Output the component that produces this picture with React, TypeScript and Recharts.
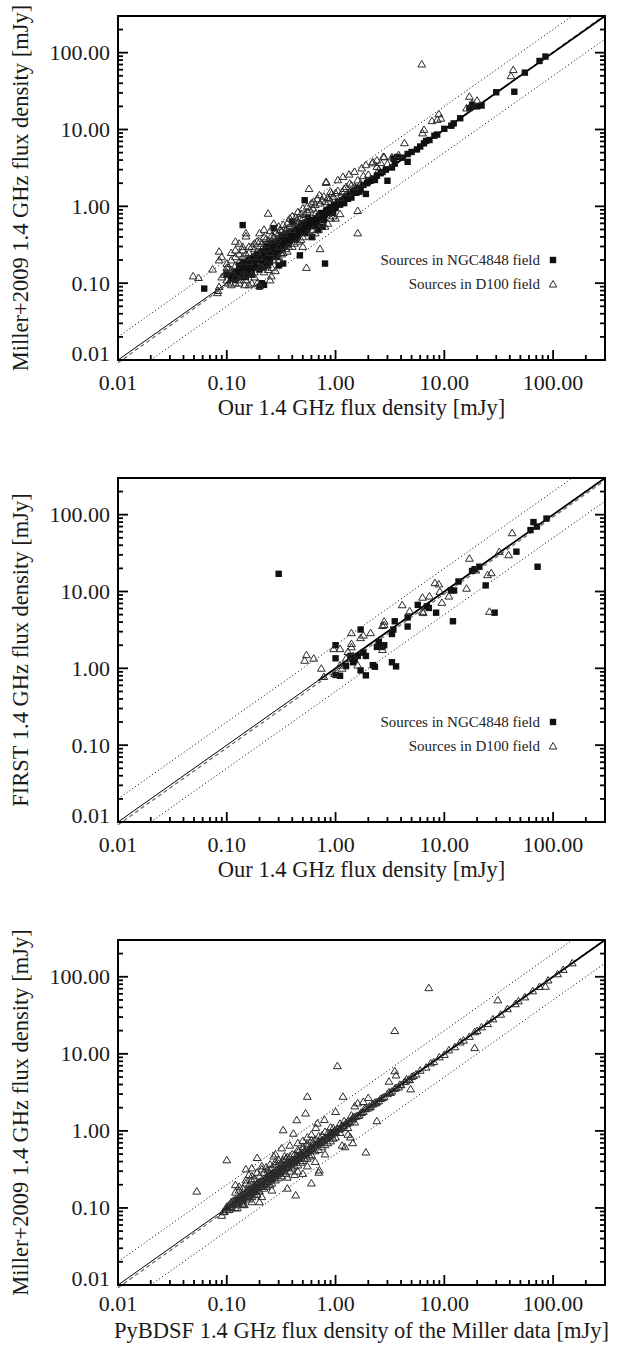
import React from 'react';
import { ScatterChart, Scatter, XAxis, YAxis, ReferenceLine, Legend } from 'recharts';

type Pt = [number, number];

const W = 624;
const FONT = '"Liberation Serif", "Times New Roman", Times, serif';
const DOMAIN: [number, number] = [0.01, 300];
const TICKS = [
  0.01, 0.02, 0.03, 0.04, 0.05, 0.06, 0.07, 0.08, 0.09,
  0.1, 0.2, 0.3, 0.4, 0.5, 0.6, 0.7, 0.8, 0.9,
  1, 2, 3, 4, 5, 6, 7, 8, 9,
  10, 20, 30, 40, 50, 60, 70, 80, 90,
  100, 200,
];
const MAJOR = [0.01, 0.1, 1, 10, 100];
const MAJOR_LABELS = ['0.01', '0.10', '1.00', '10.00', '100.00'];
const SERIES_NAMES = ['Sources in NGC4848 field', 'Sources in D100 field'];

// panel 1: Miller+2009 vs ours
const p1Ngc: Pt[] = [
  [85, 89], [75, 78], [44, 31], [22, 20.5], [20, 20], [18, 21], [17, 19], [12.2, 12], [11.6, 11.2],
  [8.6, 8.6], [8.1, 8.3], [7.3, 7.3], [6.8, 7.1], [6.5, 6.6], [5.6, 5.5], [4.6, 3.8], [4.6, 4.8],
  [4.1, 4.3], [3.7, 4.4], [3.4, 4.2], [3.3, 3.2], [3.0, 2.15], [2.9, 3.0], [2.6, 2.7], [2.4, 2.5],
  [2.3, 2.2], [2.1, 2.15], [1.95, 2.0], [1.9, 1.45], [1.8, 1.9], [1.7, 1.65], [1.6, 1.75], [1.55, 1.5],
  [1.45, 1.55], [1.4, 1.3], [1.35, 1.45], [1.3, 1.25], [1.25, 1.35], [1.2, 1.1], [1.15, 1.2],
  [1.1, 1.05], [1.05, 1.15], [1.0, 0.95], [0.97, 1.05], [0.93, 0.88], [0.9, 0.98], [0.87, 0.82],
  [0.84, 0.9], [0.8, 0.18], [0.8, 0.78], [0.77, 0.75], [0.76, 0.54], [0.74, 0.82], [0.72, 0.68],
  [0.7, 0.75], [0.69, 0.49], [0.68, 0.63], [0.66, 0.7], [0.64, 0.6], [0.61, 0.4], [0.6, 0.55],
  [0.59, 0.65], [0.57, 0.58], [0.55, 0.5], [0.54, 0.62], [0.52, 1.2], [0.51, 0.52], [0.49, 0.45],
  [0.48, 0.56], [0.47, 0.23], [0.46, 0.48], [0.45, 0.41], [0.44, 0.52], [0.42, 0.44], [0.41, 0.38],
  [0.4, 0.63], [0.39, 0.42], [0.38, 0.36], [0.37, 0.45], [0.36, 0.4], [0.35, 0.33], [0.34, 0.3],
  [0.34, 0.38], [0.33, 0.35], [0.33, 0.18], [0.32, 0.28], [0.32, 0.42], [0.31, 0.32], [0.3, 0.26],
  [0.3, 0.36], [0.3, 0.17], [0.29, 0.3], [0.28, 0.25], [0.28, 0.34], [0.27, 0.52], [0.27, 0.28],
  [0.26, 0.22], [0.26, 0.31], [0.25, 0.26], [0.25, 0.19], [0.24, 0.2], [0.24, 0.3], [0.23, 0.22],
  [0.23, 0.27], [0.22, 0.095], [0.22, 0.19], [0.22, 0.25], [0.21, 0.23], [0.21, 0.1], [0.21, 0.17],
  [0.2, 0.09], [0.2, 0.2], [0.19, 0.2], [0.19, 0.16], [0.18, 0.16], [0.18, 0.22], [0.17, 0.15],
  [0.17, 0.19], [0.165, 0.21], [0.16, 0.17], [0.16, 0.13], [0.155, 0.15], [0.15, 0.14], [0.15, 0.18],
  [0.145, 0.16], [0.14, 0.57], [0.14, 0.12], [0.14, 0.16], [0.135, 0.14], [0.13, 0.13], [0.13, 0.15],
  [0.125, 0.12], [0.12, 0.11], [0.12, 0.14], [0.115, 0.13], [0.11, 0.12], [0.1, 0.13], [0.062, 0.085],
  [0.13, 0.17], [0.14, 0.19], [0.15, 0.12], [0.16, 0.2], [0.17, 0.13], [0.18, 0.19], [0.19, 0.24],
  [0.2, 0.15], [0.21, 0.26], [0.22, 0.16], [0.23, 0.3], [0.24, 0.17], [0.25, 0.33], [0.26, 0.29],
  [0.27, 0.23], [0.28, 0.31], [0.29, 0.22], [0.31, 0.27], [0.33, 0.4], [0.35, 0.37], [0.37, 0.32],
  [0.39, 0.47], [0.43, 0.37], [0.47, 0.53], [0.5, 0.6], [0.53, 0.45], [0.56, 0.7], [0.62, 0.66],
  [0.67, 0.57], [0.73, 0.78], [0.78, 0.66], [0.82, 0.88], [0.88, 0.93], [0.95, 0.82], [1.08, 1.1],
  [1.22, 1.27], [1.5, 1.6], [1.65, 1.55], [2.0, 2.1], [2.2, 2.3], [2.7, 2.8], [3.5, 3.6], [5.0, 5.1],
  [6.0, 6.0], [10, 10.2], [14, 14], [30, 30.5], [55, 55],
];

const p1D100: Pt[] = [
  [6.2, 71], [43, 60], [41, 50], [17, 27], [20, 24], [16, 19], [18, 22], [8.9, 16], [9.3, 14],
  [7.7, 13], [8.6, 13.5], [6.5, 10], [6.3, 9], [4.3, 6.7], [2.8, 4.4], [2.75, 4.45], [2.2, 3.8],
  [2.18, 3.66], [1.9, 3.47], [1.74, 3.15], [2.4, 3.3], [3.0, 3.6], [2.4, 4.0], [3.3, 4.4], [3.8, 4.7],
  [2.6, 3.7], [1.49, 2.84], [1.33, 2.62], [1.17, 2.44], [1.05, 2.21], [0.82, 2.04], [0.82, 2.1],
  [0.9, 1.56], [0.71, 1.41], [0.63, 1.16], [0.57, 1.7], [1.6, 0.88], [1.6, 0.45], [1.4, 1.9],
  [1.2, 1.7], [1.0, 1.5], [0.95, 1.35], [1.1, 1.3], [1.3, 1.5], [1.5, 1.8], [1.7, 2.0], [2.0, 2.6],
  [2.5, 3.0], [0.72, 0.28], [0.54, 0.16], [0.24, 0.81], [0.27, 0.6], [0.3, 0.55], [0.25, 0.48],
  [0.22, 0.5], [0.2, 0.45], [0.15, 0.41], [0.15, 0.45], [0.13, 0.33], [0.14, 0.3], [0.12, 0.35],
  [0.085, 0.26], [0.085, 0.2], [0.09, 0.22], [0.1, 0.18], [0.11, 0.25], [0.12, 0.22], [0.049, 0.124],
  [0.055, 0.118], [0.074, 0.152], [0.082, 0.075], [0.083, 0.08], [0.085, 0.09], [0.103, 0.16],
  [0.103, 0.1], [0.146, 0.095], [0.16, 0.095], [0.2, 0.093], [0.19, 0.1], [0.257, 0.124],
  [0.28, 0.145], [0.25, 0.11], [0.11, 0.095], [0.13, 0.1], [0.095, 0.13], [0.1, 0.11], [0.12, 0.12],
  [0.13, 0.19], [0.14, 0.22], [0.16, 0.25], [0.17, 0.3], [0.18, 0.28], [0.19, 0.35], [0.21, 0.33],
  [0.23, 0.38], [0.26, 0.42], [0.28, 0.45], [0.31, 0.5], [0.33, 0.58], [0.36, 0.6], [0.38, 0.7],
  [0.4, 0.75], [0.43, 0.72], [0.45, 0.85], [0.48, 0.8], [0.5, 0.95], [0.55, 1.0], [0.6, 1.1],
  [0.65, 1.05], [0.68, 1.25], [0.75, 1.2], [0.78, 1.35], [0.85, 1.3], [0.55, 0.85], [0.5, 0.7],
  [0.45, 0.6], [0.35, 0.5], [0.4, 0.5], [0.45, 0.35], [0.5, 0.4], [0.4, 0.3], [0.35, 0.28],
  [0.3, 0.22], [0.5, 0.3], [0.6, 0.4], [0.65, 0.45], [0.7, 0.5], [0.85, 0.6], [1.0, 0.7], [1.1, 0.8],
  [0.95, 0.75], [0.17, 0.13], [0.15, 0.11], [0.14, 0.13], [0.18, 0.14], [0.21, 0.16], [0.23, 0.18],
  [0.27, 0.2], [0.3, 0.3], [0.25, 0.25], [0.2, 0.22], [0.16, 0.19], [0.12, 0.17], [0.11, 0.15],
  [0.1, 0.14], [0.09, 0.12], [0.33, 0.25], [0.37, 0.3],
  [0.1, 0.16], [0.11, 0.2], [0.12, 0.27], [0.13, 0.24], [0.14, 0.27], [0.15, 0.24], [0.16, 0.3],
  [0.17, 0.22], [0.18, 0.33], [0.19, 0.26], [0.2, 0.35], [0.21, 0.28], [0.22, 0.4], [0.23, 0.32],
  [0.24, 0.36], [0.26, 0.36], [0.27, 0.4], [0.29, 0.38], [0.3, 0.45], [0.32, 0.48], [0.34, 0.44],
  [0.36, 0.52], [0.38, 0.55], [0.41, 0.62], [0.44, 0.66], [0.47, 0.7], [0.52, 0.78], [0.58, 0.9],
  [0.62, 0.95], [0.66, 0.82], [0.72, 1.1], [0.8, 1.15], [0.88, 1.25], [0.92, 1.45], [1.05, 1.6],
  [1.15, 1.55], [1.25, 1.8], [1.35, 2.0], [1.6, 2.2], [1.8, 2.5], [0.12, 0.1], [0.15, 0.13],
  [0.2, 0.16], [0.22, 0.14], [0.24, 0.15], [0.3, 0.2], [0.32, 0.24], [0.36, 0.26], [0.42, 0.33],
  [0.48, 0.37], [0.55, 0.45], [0.62, 0.5], [0.75, 0.6], [0.8, 0.55], [0.9, 0.7], [0.13, 0.11],
  [0.18, 0.12], [0.26, 0.16], [0.17, 0.1],
];

// panel 2: FIRST vs ours
const p2Ngc: Pt[] = [
  [0.3, 17], [1.0, 2.0], [1.0, 1.35], [1.0, 0.82], [1.1, 0.8], [1.7, 3.2], [1.6, 1.45], [1.5, 1.3],
  [1.45, 1.2], [1.37, 1.45], [1.25, 1.07], [1.9, 0.81], [1.7, 0.94], [1.9, 1.45], [1.8, 1.6],
  [2.2, 1.1], [2.3, 1.05], [2.5, 2.2], [2.6, 2.0], [2.7, 1.9], [2.8, 2.0], [2.4, 1.9], [3.4, 3.2],
  [3.5, 4.1], [3.3, 1.2], [3.6, 1.06], [3.3, 2.8], [4.6, 4.6], [4.6, 3.5], [5.7, 6.7], [6.9, 6.4],
  [7.2, 6.1], [8.4, 5.3], [11.5, 10.3], [12.3, 10.3], [12, 4.1], [13.5, 13.5], [18, 18.5], [19, 19.5],
  [21, 21], [24, 12], [29, 5.3], [46, 33], [62, 63], [66, 80], [71, 70], [87, 89], [72, 21],
];

const p2D100: Pt[] = [
  [42, 58], [39, 30], [32, 33], [17, 27], [19.5, 19], [16, 11], [11, 8.7], [8.9, 12.5], [8.2, 13],
  [9.5, 7.2], [9.1, 10], [7.3, 8.7], [6.3, 8.4], [6.3, 5.5], [6.4, 5.3], [4.1, 6.7], [4.8, 5.6],
  [26, 5.5], [27, 17.5], [25, 16.5], [2.8, 4.1], [2.8, 3.7], [2.7, 3.6], [2.1, 2.9], [1.4, 2.9],
  [1.4, 2.1], [1.4, 1.9], [1.1, 1.8], [0.96, 1.8], [1.7, 2.5], [1.8, 2.7], [0.54, 1.5], [0.52, 1.27],
  [0.63, 1.35], [0.74, 1.0], [0.78, 0.78], [0.98, 0.85], [1.6, 1.1], [2.7, 1.75], [1.3, 1.65],
  [1.25, 1.35], [1.45, 1.45], [1.1, 1.1], [1.15, 1.0],
];

// panel 3: Miller+2009 vs PyBDSF on the Miller data
const p3D100: Pt[] = [
  [7.2, 72], [3.5, 20], [31, 50], [85, 75], [19, 12], [1.04, 7], [4.9, 3.5], [3.5, 6.0], [3.6, 5.3],
  [1.9, 0.53], [1.44, 0.7], [1.37, 0.83], [1.22, 0.62], [1.15, 0.65], [1.3, 0.9], [2.4, 1.35],
  [1.17, 2.8], [1.0, 1.78], [1.5, 2.1], [1.8, 2.4], [1.6, 2.3], [2.0, 2.7], [0.55, 2.8], [0.53, 1.7],
  [0.44, 1.39], [0.33, 1.03], [0.41, 0.93], [0.55, 0.83], [0.68, 1.26], [0.79, 1.4], [0.66, 1.1],
  [0.1, 0.42], [0.053, 0.165], [0.19, 0.45], [0.27, 0.47], [0.34, 0.47], [0.16, 0.27], [0.15, 0.32],
  [0.17, 0.33], [0.21, 0.35], [0.25, 0.37], [0.12, 0.2], [0.43, 0.147], [0.36, 0.18], [0.6, 0.21],
  [0.7, 0.29], [0.71, 0.31], [0.42, 0.27], [0.5, 0.28], [0.36, 0.25], [0.2, 0.12], [0.21, 0.14],
  [0.26, 0.17], [0.17, 0.12], [0.145, 0.11], [0.125, 0.1], [0.11, 0.1], [0.09, 0.08], [0.093, 0.089],
  [3.1, 4.4], [2.2, 2.25],
  [0.095, 0.09], [0.1, 0.1], [0.1, 0.095], [0.105, 0.11], [0.11, 0.105], [0.11, 0.12], [0.115, 0.11],
  [0.12, 0.125], [0.12, 0.115], [0.125, 0.13], [0.13, 0.12], [0.13, 0.14], [0.135, 0.13], [0.14, 0.15],
  [0.14, 0.135], [0.145, 0.14], [0.15, 0.16], [0.15, 0.145], [0.155, 0.17], [0.16, 0.155],
  [0.16, 0.175], [0.165, 0.16], [0.17, 0.18], [0.17, 0.165], [0.175, 0.19], [0.18, 0.17], [0.18, 0.2],
  [0.185, 0.18], [0.19, 0.21], [0.19, 0.185], [0.2, 0.2], [0.2, 0.22], [0.205, 0.19], [0.21, 0.23],
  [0.21, 0.2], [0.22, 0.21], [0.22, 0.24], [0.23, 0.22], [0.23, 0.25], [0.24, 0.23], [0.24, 0.26],
  [0.25, 0.24], [0.25, 0.27], [0.26, 0.25], [0.26, 0.28], [0.27, 0.26], [0.28, 0.3], [0.28, 0.27],
  [0.29, 0.28], [0.3, 0.32], [0.3, 0.29], [0.31, 0.3], [0.32, 0.34], [0.32, 0.31], [0.33, 0.33],
  [0.34, 0.36], [0.35, 0.34], [0.36, 0.38], [0.37, 0.36], [0.38, 0.4], [0.39, 0.38], [0.4, 0.42],
  [0.41, 0.4], [0.42, 0.44], [0.44, 0.43], [0.45, 0.47], [0.46, 0.45], [0.48, 0.5], [0.5, 0.49],
  [0.52, 0.54], [0.54, 0.52], [0.56, 0.58], [0.58, 0.57], [0.6, 0.62], [0.62, 0.6], [0.65, 0.67],
  [0.68, 0.66], [0.7, 0.72], [0.72, 0.71], [0.75, 0.77], [0.78, 0.76], [0.8, 0.82], [0.84, 0.83],
  [0.87, 0.89], [0.9, 0.88], [0.92, 0.95], [0.95, 0.97], [0.98, 1.0], [1.0, 0.98], [1.05, 1.07],
  [1.1, 1.08], [1.12, 1.1], [1.15, 1.17], [1.2, 1.19], [1.25, 1.28], [1.3, 1.32], [1.35, 1.3],
  [1.4, 1.38], [1.45, 1.5], [1.5, 1.53], [1.6, 1.58], [1.65, 1.6], [1.7, 1.72], [1.8, 1.78],
  [1.85, 1.95], [1.9, 1.93], [2.0, 1.98], [2.1, 2.05], [2.2, 2.22], [2.3, 2.35], [2.4, 2.38],
  [2.5, 2.45], [2.6, 2.63], [2.8, 2.77], [3.0, 3.03], [3.1, 3.2], [3.3, 3.28], [3.6, 3.65],
  [3.8, 3.7], [4.0, 3.95], [4.3, 4.35], [4.5, 4.7], [4.7, 4.65], [4.8, 4.6], [5.0, 5.05], [5.5, 5.45],
  [6.0, 6.1], [6.8, 6.7], [7.5, 7.6], [8.0, 7.9], [9.0, 9.1], [10, 9.8], [11, 11.2], [12.5, 12.3],
  [14, 14.2], [15, 15], [17, 16.8], [19, 19.3], [20, 20], [22, 22.3], [25, 24.6], [28, 28.3],
  [33, 32.6], [38, 38.4], [45, 44.5], [48, 48.5], [55, 54.6], [65, 65.5], [75, 74.5], [90, 90.5],
  [110, 109], [124, 124], [150, 151],
  [0.12, 0.16], [0.13, 0.17], [0.14, 0.18], [0.15, 0.21], [0.16, 0.2], [0.17, 0.23], [0.18, 0.24],
  [0.2, 0.26], [0.22, 0.29], [0.24, 0.31], [0.26, 0.33], [0.28, 0.37], [0.3, 0.38], [0.33, 0.42],
  [0.36, 0.46], [0.4, 0.5], [0.45, 0.57], [0.5, 0.62], [0.55, 0.68], [0.6, 0.76], [0.7, 0.86],
  [0.8, 0.98], [0.9, 1.12], [0.12, 0.1], [0.14, 0.115], [0.16, 0.13], [0.18, 0.148], [0.2, 0.165],
  [0.23, 0.19], [0.26, 0.21], [0.3, 0.245], [0.35, 0.28], [0.4, 0.33], [0.45, 0.36], [0.5, 0.41],
  [0.55, 0.44], [0.6, 0.49], [0.7, 0.57], [0.8, 0.66], [0.9, 0.74], [1.0, 0.83],
  [0.1, 0.105], [0.105, 0.095], [0.11, 0.115], [0.115, 0.125], [0.12, 0.13], [0.125, 0.115],
  [0.13, 0.135], [0.135, 0.145], [0.14, 0.125], [0.145, 0.155], [0.15, 0.135], [0.155, 0.16],
  [0.16, 0.145], [0.165, 0.18], [0.17, 0.155], [0.175, 0.17], [0.18, 0.19], [0.185, 0.165],
  [0.19, 0.2], [0.195, 0.175], [0.2, 0.21], [0.21, 0.19], [0.215, 0.225], [0.22, 0.2], [0.225, 0.24],
  [0.23, 0.21], [0.235, 0.245], [0.24, 0.22], [0.245, 0.26], [0.25, 0.23], [0.255, 0.27], [0.26, 0.24],
  [0.27, 0.29], [0.28, 0.26], [0.29, 0.31], [0.3, 0.28], [0.31, 0.33], [0.32, 0.3], [0.33, 0.35],
  [0.34, 0.32], [0.35, 0.37], [0.36, 0.34], [0.38, 0.37], [0.4, 0.39], [0.42, 0.41], [0.44, 0.46],
  [0.46, 0.44], [0.48, 0.47], [0.5, 0.52], [0.53, 0.51], [0.56, 0.55], [0.6, 0.59], [0.64, 0.65],
  [0.67, 0.69], [0.71, 0.7], [0.76, 0.74], [0.82, 0.8], [0.86, 0.86], [0.93, 0.91], [0.99, 1.02],
  [1.08, 1.05], [1.18, 1.15], [1.28, 1.25], [1.42, 1.44], [1.55, 1.55], [1.75, 1.75], [2.05, 2.1],
  [2.35, 2.3], [2.7, 2.7], [3.2, 3.15], [3.5, 3.55], [3.9, 4.0], [4.4, 4.4], [5.2, 5.2],
  [0.13, 0.19], [0.15, 0.23], [0.17, 0.26], [0.19, 0.29], [0.21, 0.32], [0.23, 0.34], [0.25, 0.32],
  [0.28, 0.4], [0.3, 0.42], [0.32, 0.38], [0.35, 0.44], [0.38, 0.47], [0.42, 0.5], [0.46, 0.55],
  [0.5, 0.58], [0.55, 0.63], [0.62, 0.72], [0.66, 0.78], [0.75, 0.88], [0.85, 0.95], [0.95, 1.1],
  [1.1, 1.25], [1.2, 1.35], [1.4, 1.6], [0.14, 0.11], [0.17, 0.14], [0.19, 0.15], [0.22, 0.18],
  [0.25, 0.2], [0.28, 0.23], [0.32, 0.26], [0.38, 0.3], [0.42, 0.35], [0.48, 0.39], [0.52, 0.44],
  [0.58, 0.47], [0.65, 0.55], [0.75, 0.62], [0.85, 0.7], [0.95, 0.8], [1.1, 0.95], [1.3, 1.1],
  [1.5, 1.3], [0.28, 0.5], [0.32, 0.6], [0.38, 0.65], [0.45, 0.7], [0.5, 0.75], [0.6, 0.9],
  [0.45, 0.3], [0.55, 0.35], [0.65, 0.4], [0.8, 0.5],
];

const AXIS_LINE = { stroke: '#000', strokeWidth: 2, strokeLinecap: 'square' as const };

type Side = 'bottom' | 'left' | 'top' | 'right';

function makeTick(side: Side, lift = 30) {
  return (props: any) => {
    const { x, y, payload } = props;
    const i = MAJOR.indexOf(payload.value);
    const len = i >= 0 ? 10 : 5;
    let line;
    if (side === 'bottom') line = <line x1={x} x2={x} y1={y} y2={y - len} />;
    else if (side === 'top') line = <line x1={x} x2={x} y1={y} y2={y + len} />;
    else if (side === 'left') line = <line x1={x} x2={x + len} y1={y} y2={y} />;
    else line = <line x1={x} x2={x - len} y1={y} y2={y} />;
    let label = null;
    if (i >= 0 && side === 'bottom') {
      label = (
        <text x={x} y={y + lift} textAnchor="middle" fontFamily={FONT} fontSize={22} fill="#1a1a1a" stroke="none">
          {MAJOR_LABELS[i]}
        </text>
      );
    }
    if (i >= 0 && side === 'left') {
      label = (
        <text x={x - 8} y={y + (i === 0 ? 1 : 7.5)} textAnchor="end" fontFamily={FONT} fontSize={22} fill="#1a1a1a" stroke="none">
          {MAJOR_LABELS[i]}
        </text>
      );
    }
    return (
      <g stroke="#000" strokeWidth={1.8}>
        {line}
        {label}
      </g>
    );
  };
}

const LegendBox = () => (
  <div style={{ fontFamily: FONT, fontSize: 15, color: '#222', textAlign: 'right' }}>
    {SERIES_NAMES.map((name, i) => (
      <div key={name} style={{ height: 24, display: 'flex', alignItems: 'center', justifyContent: 'flex-end' }}>
        <span>{name}</span>
        <svg width={10} height={10} style={{ marginLeft: 8 }}>
          {i === 0 ? (
            <rect x={1.8} y={1.8} width={6.4} height={6.4} fill="#111" />
          ) : (
            <path d="M5,1.5L8.8,8L1.2,8Z" fill="none" stroke="#2a2a2a" strokeWidth={1} />
          )}
        </svg>
      </div>
    ))}
  </div>
);

const Square = (p: any) => <rect x={p.cx - 3.2} y={p.cy - 3.2} width={6.4} height={6.4} fill="#111" />;
const Tri = (p: any) => (
  <path
    d={`M${p.cx},${p.cy - 3.6}L${p.cx + 3.9},${p.cy + 2.9}L${p.cx - 3.9},${p.cy + 2.9}Z`}
    fill="none"
    stroke="#2a2a2a"
    strokeWidth={1}
  />
);

interface PanelProps {
  top: number;
  height: number;
  xAxisH: number;
  tickLift: number;
  titleLift: number;
  yTitle: string;
  xTitle: string;
  squares?: Pt[];
  triangles: Pt[];
  fitEnd: number;
  thickFrom: number;
  legend?: boolean;
}

function Panel(props: PanelProps) {
  const { top, height, xAxisH, tickLift, titleLift, yTitle, xTitle, squares, triangles, fitEnd, thickFrom, legend } = props;
  const plotTop = 16;
  const plotBottom = height - xAxisH;
  const midX = (118 + 605) / 2;
  const midY = (plotTop + plotBottom) / 2;
  return (
    <div style={{ position: 'absolute', left: 0, top, width: W, height }}>
      <ScatterChart width={W} height={height} margin={{ top: 15, right: 18, bottom: 0, left: 0 }}>
        <XAxis
          dataKey="x"
          type="number"
          scale="log"
          domain={DOMAIN}
          ticks={TICKS}
          interval={0}
          allowDataOverflow
          height={xAxisH}
          tickSize={0}
          tickMargin={0}
          tickLine={false}
          axisLine={AXIS_LINE}
          tick={makeTick('bottom', tickLift)}
          label={() => (
            <text x={midX} y={plotBottom + titleLift} textAnchor="middle" fontFamily={FONT} fontSize={22.5} fill="#1a1a1a">
              {xTitle}
            </text>
          )}
        />
        <YAxis
          dataKey="y"
          type="number"
          scale="log"
          domain={DOMAIN}
          ticks={TICKS}
          interval={0}
          allowDataOverflow
          width={118}
          tickSize={0}
          tickMargin={0}
          tickLine={false}
          axisLine={AXIS_LINE}
          tick={makeTick('left')}
          label={() => (
            <text
              x={28}
              y={midY}
              transform={`rotate(-90, 28, ${midY})`}
              textAnchor="middle"
              fontFamily={FONT}
              fontSize={22.5}
              fill="#1a1a1a"
            >
              {yTitle}
            </text>
          )}
        />
        <XAxis
          xAxisId="t"
          orientation="top"
          type="number"
          scale="log"
          domain={DOMAIN}
          ticks={TICKS}
          interval={0}
          allowDataOverflow
          height={1}
          tickSize={0}
          tickMargin={0}
          tickLine={false}
          axisLine={AXIS_LINE}
          tick={makeTick('top')}
        />
        <YAxis
          yAxisId="r"
          orientation="right"
          type="number"
          scale="log"
          domain={DOMAIN}
          ticks={TICKS}
          interval={0}
          allowDataOverflow
          width={1}
          tickSize={0}
          tickMargin={0}
          tickLine={false}
          axisLine={AXIS_LINE}
          tick={makeTick('right')}
        />
        <ReferenceLine segment={[{ x: 0.01, y: 0.02 }, { x: 150, y: 300 }]} stroke="#000" strokeWidth={1} strokeDasharray="1 2.5" ifOverflow="visible" />
        <ReferenceLine segment={[{ x: 0.02, y: 0.01 }, { x: 300, y: 150 }]} stroke="#000" strokeWidth={1} strokeDasharray="1 2.5" ifOverflow="visible" />
        <ReferenceLine segment={[{ x: 0.01, y: 0.0092 }, { x: 300, y: fitEnd }]} stroke="#666" strokeWidth={1.2} strokeDasharray="4 3" ifOverflow="visible" />
        <ReferenceLine segment={[{ x: 0.01, y: 0.01 }, { x: 300, y: 300 }]} stroke="#000" strokeWidth={1} ifOverflow="visible" />
        <ReferenceLine segment={[{ x: thickFrom, y: thickFrom }, { x: 300, y: 300 }]} stroke="#000" strokeWidth={1.8} ifOverflow="visible" />
        {squares && (
          <Scatter
            name={SERIES_NAMES[0]}
            data={squares.map(([x, y]) => ({ x, y }))}
            shape={Square}
            isAnimationActive={false}
          />
        )}
        <Scatter
          name={SERIES_NAMES[1]}
          data={triangles.map(([x, y]) => ({ x, y }))}
          shape={Tri}
          isAnimationActive={false}
        />
        {legend && (
          <Legend
            layout="horizontal"
            verticalAlign="middle"
            align="center"
            content={() => <LegendBox />}
            wrapperStyle={{ position: 'absolute', left: 300, top: 248, width: 258, height: 48 }}
          />
        )}
      </ScatterChart>
    </div>
  );
}

export default function App() {
  return (
    <div style={{ position: 'absolute', left: 0, top: 0, width: W, height: 1345, background: '#fff', overflow: 'hidden' }}>
      <Panel
        top={0}
        height={462}
        xAxisH={102}
        tickLift={30}
        titleLift={55}
        yTitle="Miller+2009 1.4 GHz flux density [mJy]"
        xTitle="Our 1.4 GHz flux density [mJy]"
        squares={p1Ngc}
        triangles={p1D100}
        fitEnd={310}
        thickFrom={0.1}
        legend
      />
      <Panel
        top={462}
        height={462}
        xAxisH={102}
        tickLift={30}
        titleLift={55}
        yTitle="FIRST 1.4 GHz flux density [mJy]"
        xTitle="Our 1.4 GHz flux density [mJy]"
        squares={p2Ngc}
        triangles={p2D100}
        fitEnd={280}
        thickFrom={0.7}
        legend
      />
      <Panel
        top={924}
        height={421}
        xAxisH={60}
        tickLift={26}
        titleLift={53}
        yTitle="Miller+2009 1.4 GHz flux density [mJy]"
        xTitle="PyBDSF 1.4 GHz flux density of the Miller data [mJy]"
        triangles={p3D100}
        fitEnd={305}
        thickFrom={0.09}
      />
    </div>
  );
}
